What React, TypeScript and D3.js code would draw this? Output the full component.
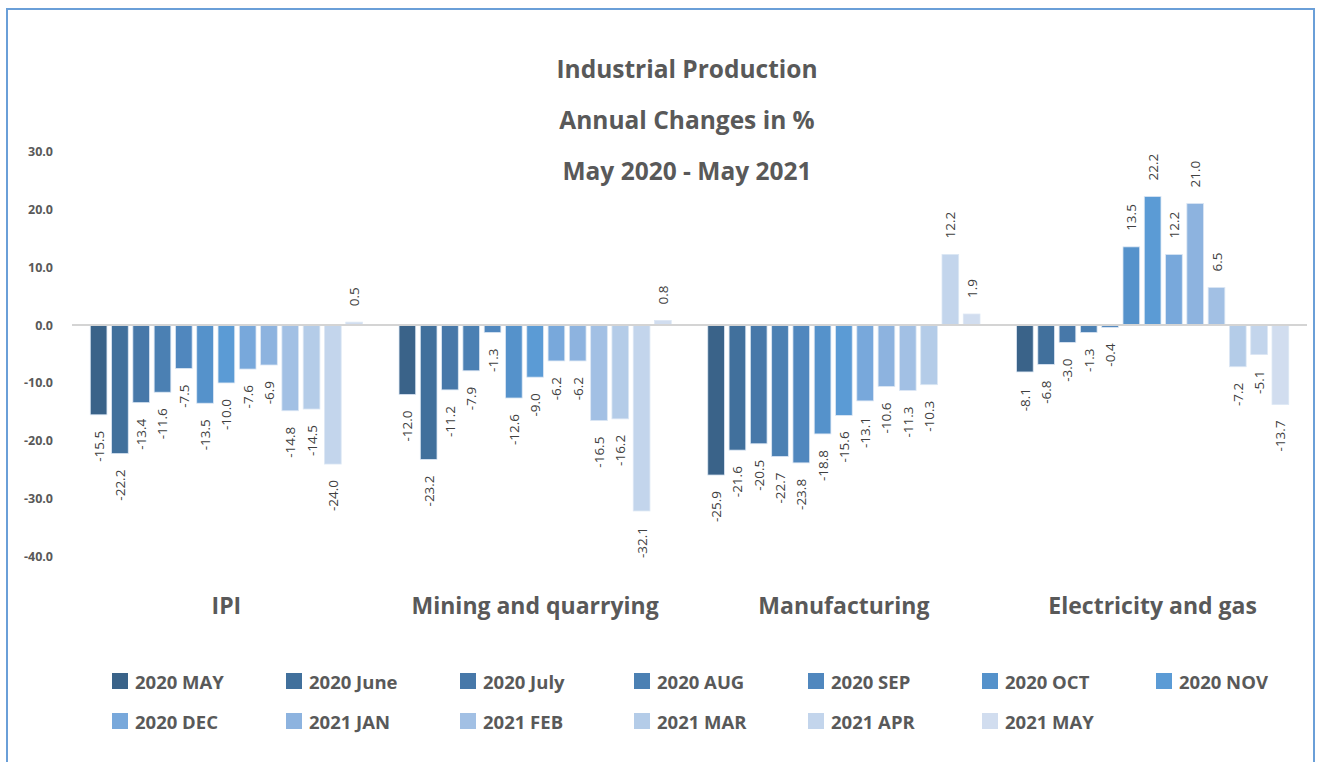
import React from "react";
import * as d3 from "d3";

const categories = ["IPI", "Mining and quarrying", "Manufacturing", "Electricity and gas"];
const seriesNames = [
  "2020 MAY", "2020 June", "2020 July", "2020 AUG", "2020 SEP", "2020 OCT", "2020 NOV",
  "2020 DEC", "2021 JAN", "2021 FEB", "2021 MAR", "2021 APR", "2021 MAY",
];
const ipi = [-15.5, -22.2, -13.4, -11.6, -7.5, -13.5, -10.0, -7.6, -6.9, -14.8, -14.5, -24.0, 0.5];
const mining = [-12.0, -23.2, -11.2, -7.9, -1.3, -12.6, -9.0, -6.2, -6.2, -16.5, -16.2, -32.1, 0.8];
const manufacturing = [-25.9, -21.6, -20.5, -22.7, -23.8, -18.8, -15.6, -13.1, -10.6, -11.3, -10.3, 12.2, 1.9];
const electricity = [-8.1, -6.8, -3.0, -1.3, -0.4, 13.5, 22.2, 12.2, 21.0, 6.5, -7.2, -5.1, -13.7];
const yTicks = [30, 20, 10, 0, -10, -20, -30, -40];
const colors = [
  "#3A6389", "#41709C", "#4778A9", "#4B80B3", "#5087BE", "#5592CB", "#5B9BD5",
  "#78A8DB", "#8DB3DF", "#A2C0E4", "#B4CCE8", "#C3D5EC", "#D1DDEF",
];
const titleLines = ["Industrial Production", "Annual Changes in %", "May 2020 - May 2021"];

const values = [ipi, mining, manufacturing, electricity];
const FONT = "'Open Sans', 'DejaVu Sans', sans-serif";
const GREY = "#595959";

export default function App() {
  const x0 = d3.scaleBand<string>().domain(categories).range([72, 1307]);
  const x1 = d3
    .scaleBand<string>()
    .domain(seriesNames)
    .range([0, x0.bandwidth()])
    .paddingInner(0)
    .paddingOuter(0.75);
  const y = d3.scaleLinear().domain([-40, 30]).range([556.7, 151.3]);
  const fmt = d3.formatLocale({ decimal: ".", thousands: ",", grouping: [3], currency: ["", ""], minus: "-" }).format(".1f");
  const gap = 4.6;
  const bw = x1.bandwidth() - gap;

  return (
    <svg
      width={1319}
      height={762}
      style={{ position: "absolute", left: 0, top: 0, background: "#fff" }}
      fontFamily={FONT}
    >
      <rect x={7} y={9} width={1307} height={780} fill="#fff" stroke="#6A9FD8" strokeWidth={2} />
      {titleLines.map((t, i) => (
        <text
          key={t}
          x={687}
          y={68 + i * 51}
          textAnchor="middle"
          dominantBaseline="central"
          fontSize={24.5}
          fontWeight="bold"
          fill={GREY}
        >
          {t}
        </text>
      ))}
      {yTicks.map((t) => (
        <text
          key={t}
          x={53}
          y={y(t)}
          textAnchor="end"
          dominantBaseline="central"
          fontSize={12.5}
          fontWeight="bold"
          fill={GREY}
        >
          {fmt(t)}
        </text>
      ))}
      {categories.map((c, ci) => (
        <g key={c} transform={`translate(${x0(c)},0)`}>
          {values[ci].map((v, si) => {
            const sx = (x1(seriesNames[si]) as number) + gap / 2;
            const top = y(Math.max(0, v));
            const h = Math.abs(y(v) - y(0));
            const cx = sx + bw / 2;
            const ly = v >= 0 ? y(v) - 16 : y(v) + 16;
            return (
              <g key={si}>
                <rect x={sx} y={top} width={bw} height={h} fill={colors[si]} stroke="#dce7f4" strokeWidth={0.8} />
                <text
                  transform={`translate(${cx},${ly}) rotate(-90)`}
                  textAnchor={v >= 0 ? "start" : "end"}
                  dominantBaseline="central"
                  fontSize={13.5}
                  fill="#404040"
                >
                  {fmt(v)}
                </text>
              </g>
            );
          })}
          <text
            x={x0.bandwidth() / 2}
            y={605}
            textAnchor="middle"
            dominantBaseline="central"
            fontSize={23}
            fontWeight="bold"
            fill={GREY}
          >
            {c}
          </text>
        </g>
      ))}
      <line x1={72} x2={1307} y1={y(0)} y2={y(0)} stroke="#d4d4d4" strokeWidth={2} />
      {seriesNames.map((s, i) => {
        const col = i % 7;
        const row = Math.floor(i / 7);
        const lx = 112 + col * 174;
        const ly = 681 + row * 40;
        return (
          <g key={s}>
            <rect x={lx} y={ly - 8} width={16} height={16} fill={colors[i]} />
            <text
              x={lx + 23}
              y={ly}
              dominantBaseline="central"
              fontSize={18.5}
              fontWeight="bold"
              fill={GREY}
            >
              {s}
            </text>
          </g>
        );
      })}
    </svg>
  );
}
